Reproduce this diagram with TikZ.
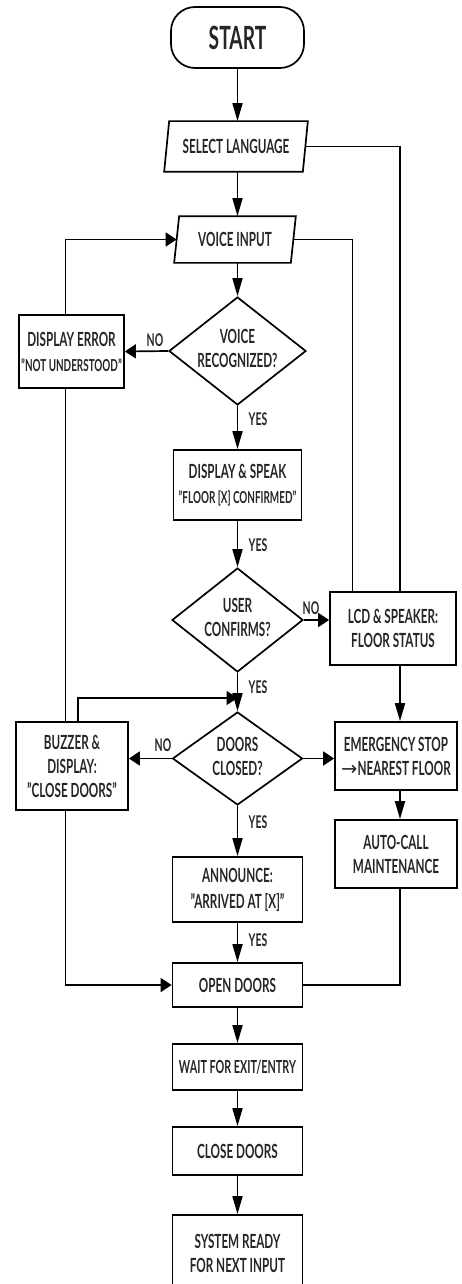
\documentclass[tikz,border=0pt]{standalone}
\usepackage{fontspec}
\setmainfont{Lato}[FakeStretch=0.6]
\newfontfamily\arrowfont{DejaVu Sans}
\usetikzlibrary{shapes.geometric,arrows.meta,calc}
\newcommand\dtext[1]{\makebox[0pt]{\begin{tabular}{@{}c@{}}#1\end{tabular}}}
\begin{document}
\begin{tikzpicture}[x=1pt,y=-1pt,
  base/.style={line width=1.7pt, inner sep=0pt, font=\fontsize{19.5}{24}\selectfont\bfseries, text=black!85, align=center},
  box/.style={base, draw=black, fill=white, rectangle},
  dia/.style={base, draw=black, fill=white, diamond},
  para/.style={base, rectangle},
  lnk/.style={line width=1.7pt, draw=black, line join=miter},
  varr/.style={lnk, -{Triangle[length=18pt,width=10pt]}},
  harr/.style={lnk, -{Triangle[length=11pt,width=14pt]}},
  lbl/.style={font=\fontsize{17.5}{18}\selectfont\bfseries, text=black!85, inner sep=0pt},
]
\useasboundingbox (0,0) rectangle (461,1284);
\path[clip] (0,0) rectangle (461,1284);
\fill[white] (0,0) rectangle (461,1284);

\coordinate (X) at (237.5,0);
\coordinate (R) at (400,0);
\coordinate (Q) at (352.5,0);
\coordinate (L) at (65.5,0);
\coordinate (B) at (78,0);
\coordinate (J) at (237.5,698);

% nodes
\node[box, rounded corners=24pt, minimum width=133pt, minimum height=61pt,
      font=\fontsize{32}{34}\selectfont\bfseries] (start) at (237.5,37.5) {START};

\node[para, minimum width=137pt, minimum height=49pt] (sel) at (236,146.5) {SELECT LANGUAGE};
\draw[lnk] ($(sel.north west)+(2.5,0)$) -- ($(sel.north east)+(2.5,0)$)
  -- ($(sel.south east)+(-2.5,0)$) -- ($(sel.south west)+(-2.5,0)$) -- cycle;

\node[para, minimum width=115pt, minimum height=45pt] (voice) at (235,239.5) {VOICE INPUT};
\draw[lnk] ($(voice.north west)+(2.5,0)$) -- ($(voice.north east)+(2.5,0)$)
  -- ($(voice.south east)+(-2.5,0)$) -- ($(voice.south west)+(-2.5,0)$) -- cycle;

\node[dia, minimum width=137pt, minimum height=108pt] (d1) at (237.5,351) {\dtext{VOICE\\RECOGNIZED?}};
\node[box, minimum width=105pt, minimum height=73pt] (err) at (71.5,351.5)
  {DISPLAY ERROR\\[1pt]{\fontsize{16.5}{18}\selectfont "NOT UNDERSTOOD"}};
\node[box, minimum width=128pt, minimum height=70pt] (ds) at (237.5,485)
  {DISPLAY \& SPEAK\\[1pt]{\fontsize{16.5}{18}\selectfont "FLOOR [X] CONFIRMED"}};
\node[dia, minimum width=131pt, minimum height=104pt] (d2) at (237.5,620) {\dtext{USER\\CONFIRMS?}};
\node[box, minimum width=126pt, minimum height=73pt] (lcd) at (393,628.5) {LCD \& SPEAKER:\\FLOOR STATUS};
\node[dia, minimum width=130pt, minimum height=93pt] (d3) at (237.5,758.5) {\dtext{DOORS\\CLOSED?}};
\node[box, minimum width=112pt, minimum height=88pt] (buzz) at (72,766) {BUZZER \&\\DISPLAY:\\"CLOSE DOORS"};
\node[box, minimum width=122pt, minimum height=68pt] (emerg) at (396,756) {EMERGENCY STOP\\{\arrowfont\mdseries →}NEAREST FLOOR};
\node[box, minimum width=122pt, minimum height=68pt] (auto) at (396,854) {AUTO-CALL\\MAINTENANCE};
\node[box, minimum width=130pt, minimum height=65pt] (ann) at (237.5,889.5) {ANNOUNCE:\\[2pt]"ARRIVED AT [X]"};
\node[box, minimum width=130pt, minimum height=44pt] (open) at (237.5,985) {OPEN DOORS};
\node[box, minimum width=130pt, minimum height=46pt, font=\fontsize{18}{24}\selectfont\bfseries] (wait) at (237.5,1067) {WAIT FOR EXIT/ENTRY};
\node[box, minimum width=130pt, minimum height=48pt] (close) at (237.5,1151) {CLOSE DOORS};
\node[box, minimum width=130pt, minimum height=77pt] (ready) at (237.5,1253.5) {SYSTEM READY\\FOR NEXT INPUT};

% main column
\draw[varr] (start.south) -- (sel.north -| X);
\draw[varr] (sel.south -| X) -- (voice.north -| X);
\draw[varr] (voice.south -| X) -- (d1.north);
\draw[varr] (d1.south) -- (ds.north);
\draw[varr] (ds.south) -- (d2.north);
\draw[varr] (d2.south) -- (d3.north);
\draw[varr] (d3.south) -- (ann.north);
\draw[varr] (ann.south) -- (open.north);
\draw[varr] (open.south) -- (wait.north);
\draw[varr] (wait.south) -- (close.north);
\draw[varr] (close.south) -- (ready.north);

% right side lines
\draw[lnk] (sel.east) -| (lcd.north -| R);
\draw[lnk] (voice.east) -| (lcd.north -| Q);
\draw[varr] (lcd.south -| R) -- (emerg.north -| R);
\draw[varr] (emerg.south -| R) -- (auto.north -| R);
\draw[lnk] (auto.south -| R) |- (open.east);

% left side lines
\draw[harr] (d1.west) -- (err.east);
\draw[harr] (err.north -| L) |- (voice.west);
\draw[lnk] (err.south -| L) -- (buzz.north -| L);
\draw[harr] (buzz.south -| L) |- (open.west);
\draw[harr] (buzz.north -| B) |- (J);

% side branches
\draw[harr] (d2.east) -- (d2.east -| lcd.west);
\draw[harr] (d3.west) -- (d3.west -| buzz.east);
\draw[harr] (d3.east) -- (d3.east -| emerg.west);

% labels
\node[lbl] (n1) at (155,340) {NO};
\node[lbl] (y1) at (258,419) {YES};
\node[lbl] (y2) at (258,545) {YES};
\node[lbl] (n2) at (311,608) {NO};
\node[lbl] (y3) at (258,687) {YES};
\node[lbl] (n3) at (163,745) {NO};
\node[lbl] (y4) at (258,822) {YES};
\node[lbl] (y5) at (258,940) {YES};
\end{tikzpicture}
\end{document}
